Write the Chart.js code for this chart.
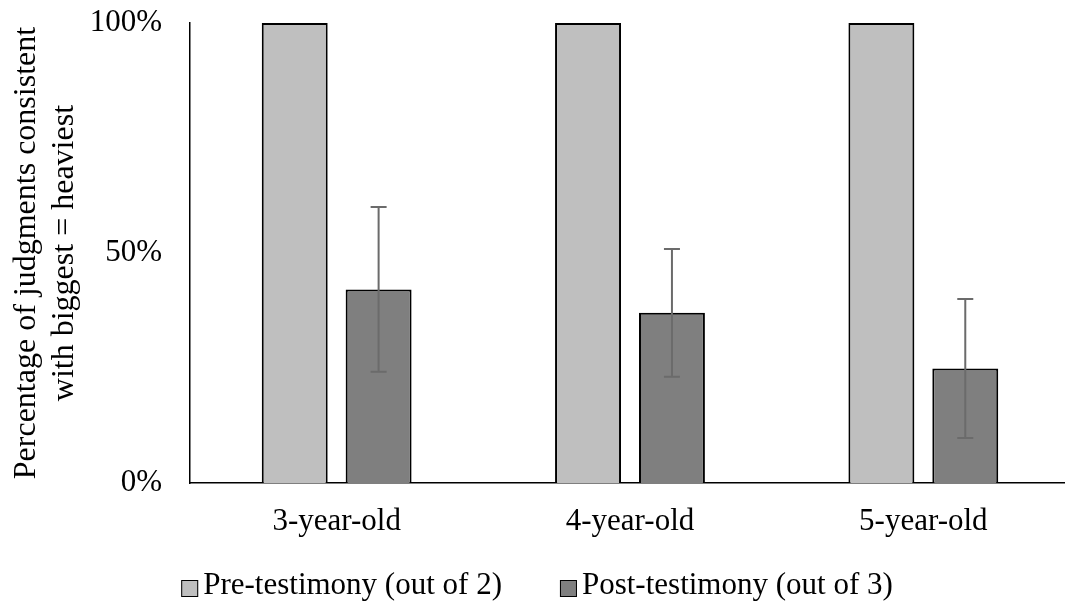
<!DOCTYPE html>
<html lang="en">
<head>
  <meta charset="UTF-8">
  <title>Bar Chart</title>
  <script src="https://cdn.jsdelivr.net/npm/chart.js"></script>
  <style>
    body { margin: 0; background: #fff; }
    #wrap { width: 1065px; height: 606px; overflow: hidden; }
  </style>
</head>
<body>
  <div id="wrap">
    <canvas id="myChart" width="1070" height="606"></canvas>
  </div>

  <script>
    // Data
    var ageGroups = ['3-year-old', '4-year-old', '5-year-old'];
    var preTestimony = [100, 100, 100];
    var postTestimony = [42.1, 37.0, 24.9];
    var postError = [17.9, 13.9, 15.1];
    var yTicks = [0, 50, 100];

    var serif = "'Liberation Serif', 'Times New Roman', serif";

    // error bars on the post-testimony bars
    var errorBars = {
      id: 'errorBars',
      afterDatasetsDraw: function(chart) {
        var ctx = chart.ctx;
        var yScale = chart.scales.y;
        var meta = chart.getDatasetMeta(1);
        ctx.save();
        ctx.strokeStyle = '#6b6b6b';
        ctx.lineWidth = 2;
        meta.data.forEach(function(bar, i) {
          var top = yScale.getPixelForValue(postTestimony[i] + postError[i]);
          var bottom = yScale.getPixelForValue(postTestimony[i] - postError[i]);
          ctx.beginPath();
          ctx.moveTo(bar.x, top);
          ctx.lineTo(bar.x, bottom);
          ctx.moveTo(bar.x - 8, top);
          ctx.lineTo(bar.x + 8, top);
          ctx.moveTo(bar.x - 8, bottom);
          ctx.lineTo(bar.x + 8, bottom);
          ctx.stroke();
        });
        ctx.restore();
      }
    };

    // legend drawn by hand so the swatch sits close to its text
    var legendRow = {
      id: 'legendRow',
      afterDraw: function(chart) {
        var ctx = chart.ctx;
        var gap = 58;
        ctx.save();
        ctx.font = '31px ' + serif;
        ctx.textBaseline = 'middle';
        var items = chart.data.datasets.map(function(ds) {
          return { text: ds.label, color: ds.backgroundColor, w: 22 + ctx.measureText(ds.label).width };
        });
        var total = items.reduce(function(s, it) { return s + it.w; }, 0) + gap * (items.length - 1);
        var x = 537 - total / 2;
        items.forEach(function(it) {
          ctx.fillStyle = it.color;
          ctx.fillRect(x, 580, 17, 17);
          ctx.strokeStyle = '#000';
          ctx.lineWidth = 1;
          ctx.strokeRect(x + 0.5, 580.5, 16, 16);
          ctx.fillStyle = '#000';
          ctx.fillText(it.text, x + 22, 586);
          x += it.w + gap;
        });
        ctx.restore();
      }
    };

    var ctx = document.getElementById('myChart').getContext('2d');
    new Chart(ctx, {
      type: 'bar',
      data: {
        labels: ageGroups,
        datasets: [{
          label: 'Pre-testimony (out of 2)',
          data: preTestimony,
          backgroundColor: '#bfbfbf',
          borderColor: '#000',
          borderWidth: 2
        }, {
          label: 'Post-testimony (out of 3)',
          data: postTestimony,
          backgroundColor: '#7f7f7f',
          borderColor: '#000',
          borderWidth: 2
        }]
      },
      options: {
        responsive: false,
        animation: false,
        categoryPercentage: 0.572,
        barPercentage: 0.786,
        layout: { padding: { top: 0, left: 0, right: 0, bottom: 63 } },
        plugins: {
          tooltip: { enabled: false },
          legend: { display: false }
        },
        scales: {
          x: {
            grid: { display: false },
            border: { display: true, color: '#000', width: 1.5 },
            ticks: { color: '#000', padding: 12, font: { family: serif, size: 31 } },
            afterFit: function(scale) { scale.height = 60; }
          },
          y: {
            min: 0,
            max: 100,
            grid: { display: false },
            border: { display: true, color: '#000', width: 1.5 },
            afterBuildTicks: function(scale) {
              scale.ticks = yTicks.map(function(v) { return { value: v }; });
            },
            ticks: {
              color: '#000',
              padding: 20,
              font: { family: serif, size: 31, lineHeight: 0.2 },
              callback: function(v) { return v + '%'; }
            },
            title: {
              display: true,
              text: ['Percentage of judgments consistent', 'with biggest = heaviest'],
              color: '#000',
              font: { family: serif, size: 32, lineHeight: 1.2 },
              padding: { top: 7, bottom: 0 }
            },
            afterFit: function(scale) { scale.width = 190; }
          }
        }
      },
      plugins: [errorBars, legendRow]
    });
  </script>
</body>
</html>
